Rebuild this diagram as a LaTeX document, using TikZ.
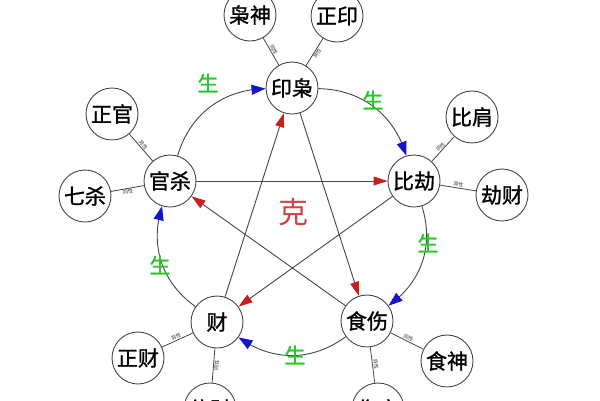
\documentclass[tikz,border=0pt]{standalone}
\usepackage{fontspec}
\newfontfamily\cjk{Noto Sans CJK SC}
\newfontfamily\cjkb{Noto Sans CJK SC}[FakeBold=1.2]
\usetikzlibrary{arrows.meta,bending}
\definecolor{shengc}{RGB}{40,200,40}
\definecolor{kec}{RGB}{200,70,70}
\definecolor{bluetip}{RGB}{20,20,200}
\definecolor{redtip}{RGB}{200,30,30}
\definecolor{linec}{RGB}{70,70,70}
\begin{document}
\begin{tikzpicture}[x=1pt,y=1pt,
  circ/.style={circle, draw=linec, line width=0.9pt, minimum size=52pt, inner sep=0pt, fill=white, font=\cjkb\fontsize{21}{21}\selectfont},
  link/.style={draw=linec, line width=0.8pt},
  lab/.style={font=\cjk\fontsize{5}{5}\selectfont, inner sep=0.5pt, text=black!80},
  sheng/.style={draw=linec, line width=0.9pt, -{Triangle[length=14pt,width=10pt,color=bluetip,flex]}},
  ke/.style={draw=linec, line width=0.9pt, -{Triangle[length=14pt,width=9pt,color=redtip]}},
  gen/.style={font=\cjkb\fontsize{21}{21}\selectfont, text=shengc},
]
\useasboundingbox (0,0) rectangle (600,-400);
\fill[white] (0,0) rectangle (600,-400);
\clip (0,0) rectangle (600,-400);

% main nodes
\node[circ] (yx) at (292,-88) {印枭};
\node[circ] (bj) at (414,-181) {比劫};
\node[circ] (ss) at (367,-321) {食伤};
\node[circ] (cai) at (217,-322) {财};
\node[circ] (gs) at (170,-181) {官杀};

% outer nodes
\node[circ] (xs) at (250,-15) {枭神};
\node[circ] (zy) at (337,-16) {正印};
\node[circ] (bjian) at (472,-117) {比肩};
\node[circ] (jc) at (502,-195) {劫财};
\node[circ] (zg) at (112,-114) {正官};
\node[circ] (qs) at (85,-196) {七杀};
\node[circ] (zc) at (138,-358) {正财};
\node[circ] (pc) at (210,-409) {偏财};
\node[circ] (sshen) at (447,-361) {食神};
\node[circ] (sg) at (378,-409) {伤官};

% connectors to outer nodes
\draw[link] (yx) -- node[lab,sloped,above]{同性} (xs);
\draw[link] (yx) -- node[lab,sloped,below]{异性} (zy);
\draw[link] (bj) -- node[lab,sloped,above]{同性} (bjian);
\draw[link] (bj) -- node[lab,sloped,above]{异性} (jc);
\draw[link] (gs) -- node[lab,sloped,above]{异性} (zg);
\draw[link] (gs) -- node[lab,sloped,below]{同性} (qs);
\draw[link] (cai) -- node[lab,sloped,above]{异性} (zc);
\draw[link] (cai) -- node[lab,sloped,below]{同性} (pc);
\draw[link] (ss) -- node[lab,sloped,above]{同性} (sshen);
\draw[link] (ss) -- node[lab,sloped,above]{异性} (sg);

% sheng cycle
\draw[sheng] (gs) to[bend left=36] (yx);
\draw[sheng] (yx) to[bend left=36] (bj);
\draw[sheng] (bj) to[bend left=36] (ss);
\draw[sheng] (ss) to[bend left=36] (cai);
\draw[sheng] (cai) to[bend left=36] (gs);

% ke star
\draw[ke] (yx) -- (ss);
\draw[ke] (ss) -- (gs);
\draw[ke] (gs) -- (bj);
\draw[ke] (bj) -- (cai);
\draw[ke] (cai) -- (yx);

% labels
\node[font=\cjk\fontsize{30}{30}\selectfont, text=kec] (ke) at (293,-212) {克};
\node[gen] (g1) at (208,-83) {生};
\node[gen] (g2) at (373,-100) {生};
\node[gen] (g3) at (428,-243) {生};
\node[gen] (g4) at (295,-355) {生};
\node[gen] (g5) at (160,-265) {生};
\end{tikzpicture}
\end{document}
